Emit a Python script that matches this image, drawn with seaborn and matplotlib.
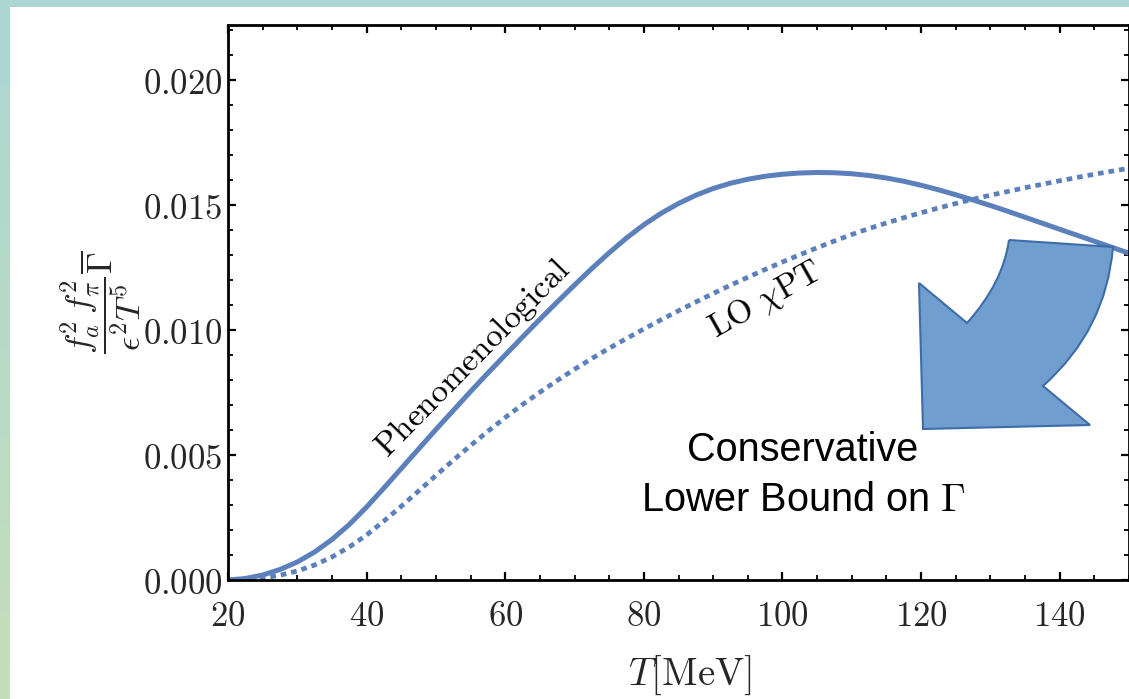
import numpy as np
import pandas as pd
import matplotlib
matplotlib.use("Agg")
import matplotlib.pyplot as plt
from matplotlib.path import Path
from matplotlib.patches import PathPatch, Rectangle
from matplotlib.ticker import MultipleLocator, FuncFormatter
import seaborn as sns

# ---- data ----
T_MeV = [20, 22.5, 25, 27.5, 30, 32.5, 35, 37.5, 40, 42.5, 45, 47.5, 50, 52.5,
         55, 57.5, 60, 62.5, 65, 67.5, 70, 72.5, 75, 77.5, 80, 82.5, 85, 87.5,
         90, 92.5, 95, 97.5, 100, 102.5, 105, 107.5, 110, 112.5, 115, 117.5,
         120, 122.5, 125, 127.5, 130, 132.5, 135, 137.5, 140, 142.5, 145,
         147.5, 150]
phenomenological = [0.00000, 0.00006, 0.00020, 0.00042, 0.00072, 0.00112,
                    0.00162, 0.00222, 0.00292, 0.00368, 0.00446, 0.00524,
                    0.00602, 0.00678, 0.00754, 0.00828, 0.00900, 0.00972,
                    0.01043, 0.01112, 0.01180, 0.01246, 0.01309, 0.01368,
                    0.01421, 0.01467, 0.01506, 0.01539, 0.01566, 0.01587,
                    0.01603, 0.01615, 0.01623, 0.01628, 0.01630, 0.01629,
                    0.01625, 0.01618, 0.01608, 0.01595, 0.01579, 0.01561,
                    0.01541, 0.01520, 0.01498, 0.01475, 0.01451, 0.01427,
                    0.01403, 0.01379, 0.01355, 0.01331, 0.01307]
lo_chipt = [0.00000, 0.00002, 0.00008, 0.00019, 0.00036, 0.00060, 0.00092,
            0.00132, 0.00180, 0.00236, 0.00295, 0.00356, 0.00418, 0.00479,
            0.00538, 0.00595, 0.00650, 0.00702, 0.00751, 0.00798, 0.00843,
            0.00886, 0.00927, 0.00966, 0.01004, 0.01041, 0.01077, 0.01112,
            0.01146, 0.01179, 0.01211, 0.01242, 0.01272, 0.01301, 0.01329,
            0.01356, 0.01382, 0.01406, 0.01428, 0.01449, 0.01469, 0.01488,
            0.01506, 0.01523, 0.01539, 0.01554, 0.01569, 0.01583, 0.01597,
            0.01610, 0.01623, 0.01635, 0.01647]
x_ticks = [20, 40, 60, 80, 100, 120, 140]
y_ticks = [0.000, 0.005, 0.010, 0.015, 0.020]

sns.set_theme(style="white")
plt.rcParams["mathtext.fontset"] = "cm"
plt.rcParams["font.family"] = ["DejaVu Serif"]

W, H = 1129, 699
fig = plt.figure(figsize=(W / 100, H / 100), dpi=100)

# slide-like background
ax_bg = fig.add_axes([0, 0, 1, 1], zorder=-10)
grad = np.linspace(0, 1, 256)[:, None]
c_top = np.array([172, 214, 211]) / 255
c_bot = np.array([197, 222, 186]) / 255
img = c_top[None, None, :] * (1 - grad[:, :, None]) + c_bot[None, None, :] * grad[:, :, None]
ax_bg.imshow(img, aspect="auto", extent=[0, 1, 0, 1], origin="upper")
ax_bg.add_patch(Rectangle((10 / W, 0), 1 - 10 / W, 1 - 7 / H, transform=ax_bg.transAxes,
                          facecolor="white", edgecolor="none"))
ax_bg.set_axis_off()

L, R, TOP, BOT = 228, 1129, 25, 580
ax = fig.add_axes([L / W, (H - BOT) / H, (R - L) / W, (BOT - TOP) / H])
ax.set_facecolor("white")

df = pd.DataFrame({"T": T_MeV, "phen": phenomenological, "lo": lo_chipt})
line_color = "#5b80bb"
sns.lineplot(data=df, x="T", y="phen", ax=ax, color=line_color, lw=3.6,
             solid_capstyle="butt", solid_joinstyle="round")
sns.lineplot(data=df, x="T", y="lo", ax=ax, color=line_color, lw=3.4,
             linestyle=(0, (1.2, 1.05)), dash_capstyle="butt")

ax.set_xlim(20, 150)
ax.set_ylim(0, 0.0222)
ax.set_xticks(x_ticks)
ax.set_yticks(y_ticks)
ax.xaxis.set_minor_locator(MultipleLocator(5))
ax.yaxis.set_minor_locator(MultipleLocator(0.001))
ax.xaxis.set_major_formatter(FuncFormatter(lambda v, p: f"${v:.0f}$"))
ax.yaxis.set_major_formatter(FuncFormatter(lambda v, p: f"${v:.3f}$"))
ax.tick_params(which="both", direction="in", top=True, right=True, bottom=True, left=True,
               color="black")
ax.tick_params(which="major", length=6, width=1.6, labelsize=25, pad=4)
ax.tick_params(which="minor", length=3.5, width=1.3)
ax.tick_params(axis="x", which="major", pad=14)
for s in ax.spines.values():
    s.set_visible(True)
    s.set_color("black")
    s.set_linewidth(2.0)

ax.set_xlabel(r"$T[\mathrm{MeV}]$", fontsize=28)
ax.xaxis.set_label_coords(0.513, -0.132)
ax.set_ylabel(r"$\dfrac{f_a^2\, f_\pi^2}{\epsilon^2 T^5}\overline{\Gamma}$", fontsize=25,
              ha="center", va="center")
ax.yaxis.set_label_coords(-0.141, 0.50)

# curve labels
ax.text(0.272, 0.400, r"$\mathrm{Phenomenological}$", transform=ax.transAxes,
        rotation=45.5, fontsize=24, ha="center", va="center", color="black")
ax.text(0.597, 0.505, r"$\mathrm{LO}\ \chi\mathrm{PT}$", transform=ax.transAxes,
        rotation=29.5, fontsize=24, ha="center", va="center", color="black")

# curved block arrow (annotation)
def fx(px):
    return (px - L) / (R - L)

def fy(py):
    return (BOT - py) / (BOT - TOP)

pts = [(1009, 240), (1113, 247), (1106, 330), (1043, 386), (1090, 425),
       (923, 429), (919, 283), (967, 323), (1003, 283), (1009, 240)]
codes = [Path.MOVETO, Path.LINETO, Path.CURVE3, Path.CURVE3, Path.LINETO,
         Path.LINETO, Path.LINETO, Path.LINETO, Path.CURVE3, Path.CURVE3]
verts = [(fx(a), fy(b)) for a, b in pts]
arrow = PathPatch(Path(verts, codes), transform=ax.transAxes, facecolor="#709fcf",
                  edgecolor="#3d6cab", lw=1.5, zorder=5, clip_on=False)
ax.add_patch(arrow)

fig.text(803 / W, 1 - 450 / H, "Conservative", fontsize=28.5, family=["Liberation Sans"],
         ha="center", va="center", color="black")
fig.text(803 / W, 1 - 500 / H, r"Lower Bound on $\Gamma$", fontsize=28.5,
         family=["Liberation Sans"], ha="center", va="center", color="black")

fig.savefig("out.png", dpi=100, facecolor="white")
